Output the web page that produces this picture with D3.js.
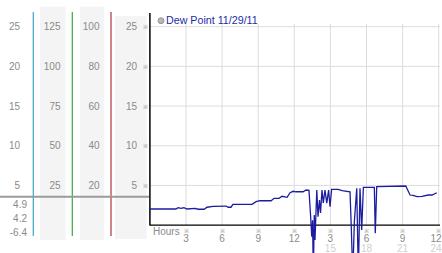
<!DOCTYPE html>
<html><head><meta charset="utf-8">
<script src="https://cdn.jsdelivr.net/npm/d3@7/dist/d3.min.js"></script>
<style>html,body{margin:0;padding:0;background:#fff;overflow:hidden}svg{display:block}</style>
</head><body><svg id="c" width="442" height="253"></svg>
<script>
// ---- data ----
const seriesName = "Dew Point 11/29/11";
const hours = [0,2.17,2.34,2.59,2.83,3.08,3.75,4.0,4.5,4.75,5.25,6.33,6.5,6.74,6.9,8.49,8.82,9.15,10.07,10.32,10.73,10.98,11.4,11.65,11.9,12.14,12.73,12.98,13.22,13.35,13.45,13.52,13.58,13.66,13.72,13.87,13.97,14.09,14.18,14.3,14.41,14.55,14.7,14.85,14.97,15.1,15.64,15.97,16.63,16.72,16.86,16.99,17.19,17.32,17.46,17.6,17.74,18.65,18.73,18.85,21.26,21.62,21.87,22.2,22.62,23.12,23.45,23.84];
const dewPoint = [2.03,2.03,2.2,2.1,2.2,2.03,2.1,2.0,2.0,2.25,2.37,2.4,2.25,2.25,2.6,2.62,2.95,3.07,3.07,3.38,3.38,3.63,3.5,4.08,4.26,4.2,4.2,4.42,4.38,1.27,-1.46,0.6,-6.4,1.27,-1.88,4.42,1.06,3.16,1.52,4.42,2.78,4.42,2.78,4.42,2.32,4.5,4.5,4.33,4.2,0.43,-6.4,0.43,4.64,-6.4,4.64,-0.62,4.76,4.76,-1.03,4.84,4.93,3.79,3.74,3.58,3.63,3.79,3.79,4.08];
const yTicks = [25,20,15,10,5];
const col2Labels = ["125","100","75","50","25"];
const col3Labels = ["100","80","60","40","20"];
const statLabels = ["4.9","4.2","-6.4"];
const refValue = 3.58;
const xTicks = [3,6,9,12,15,18,21,24];
const xTickLabels = ["3","6","9","12","3","6","9","12"];
const xTicks24 = [15,18,21,24];
const xTickLabels24 = ["15","18","21","24"];

// ---- drawing ----
const svg = d3.select("#c");
const font = "'Liberation Sans', Arial, sans-serif";
const x = d3.scaleLinear().domain([0,24]).range([149.9,438.7]);
const y = d3.scaleLinear().domain([0,25]).range([225.1,26.7]);
const W = 442;

// left panel backgrounds
const bgs = [[40,6.7,25.7,233.3],[80,6.7,24.3,233.3],[115,16,31.7,223]];
svg.selectAll("rect.bg").data(bgs).enter().append("rect")
  .attr("x",d=>d[0]).attr("y",d=>d[1]).attr("width",d=>d[2]).attr("height",d=>d[3])
  .attr("fill","#f4f4f4");

// colored separators
const seps = [[33.3,"#3aa6c8"],[72.3,"#3aa83a"],[111,"#b03434"]];
svg.selectAll("line.sep").data(seps).enter().append("line")
  .attr("x1",d=>d[0]).attr("x2",d=>d[0]).attr("y1",12).attr("y2",236)
  .attr("stroke",d=>d[1]).attr("stroke-width",1.2);

// reference gray line
svg.append("line").attr("x1",0).attr("x2",149).attr("y1",y(refValue)).attr("y2",y(refValue))
  .attr("stroke","#9a9a9a").attr("stroke-width",2);

// left labels
function colLabels(labels, xr){
  svg.append("g").selectAll("text").data(labels).enter().append("text")
    .attr("x",xr).attr("y",(d,i)=>y(yTicks[i])+3.6)
    .attr("text-anchor","end").attr("font-family",font).attr("font-size",10)
    .attr("fill","#8a8a8a").text(d=>d);
}
colLabels(yTicks.map(String),20);
colLabels(col2Labels,60.5);
colLabels(col3Labels,99.5);
colLabels(yTicks.map(String),137);
svg.append("g").selectAll("text").data(statLabels).enter().append("text")
  .attr("x",27).attr("y",(d,i)=>207.8+i*14)
  .attr("text-anchor","end").attr("font-family",font).attr("font-size",10)
  .attr("fill","#8a8a8a").text(d=>d);

// tick marks on y axis
svg.append("g").selectAll("text").data(yTicks).enter().append("text")
  .attr("x",145.5).attr("y",d=>y(d)+2.5).attr("text-anchor","middle")
  .attr("font-family",font).attr("font-size",6).attr("fill","#999").text("※");

// grid
svg.append("g").selectAll("line").data(yTicks).enter().append("line")
  .attr("x1",x(0)).attr("x2",440).attr("y1",d=>y(d)).attr("y2",d=>y(d))
  .attr("stroke","#dcdcdc").attr("stroke-width",1);
svg.append("g").selectAll("line").data(xTicks).enter().append("line")
  .attr("x1",d=>x(d)).attr("x2",d=>x(d)).attr("y1",24).attr("y2",y(0))
  .attr("stroke","#dcdcdc").attr("stroke-width",1);

// axes
svg.append("line").attr("x1",x(0)).attr("x2",x(0)).attr("y1",13).attr("y2",y(0)+0.5)
  .attr("stroke","#000").attr("stroke-width",1.5);
svg.append("line").attr("x1",x(0)).attr("x2",440).attr("y1",y(0)).attr("y2",y(0))
  .attr("stroke","#000").attr("stroke-width",1.3);

// x labels (keep the last labels inside the picture)
const lx = d => x(d) > W - 8 ? W - 0.5 : x(d);
const la = d => x(d) > W - 8 ? "end" : "middle";
svg.append("text").attr("x",153).attr("y",235).attr("font-family",font).attr("font-size",10)
  .attr("fill","#8a8a8a").text("Hours");
svg.append("g").selectAll("text").data(xTicks).enter().append("text")
  .attr("x",d=>x(d)).attr("y",232.5).attr("text-anchor","middle")
  .attr("font-family",font).attr("font-size",6).attr("fill","#999").text("※");
svg.append("g").selectAll("text").data(xTicks).enter().append("text")
  .attr("x",lx).attr("y",241.8).attr("text-anchor",la)
  .attr("font-family",font).attr("font-size",10).attr("fill","#8a8a8a")
  .text((d,i)=>xTickLabels[i]);
svg.append("g").selectAll("text").data(xTicks24).enter().append("text")
  .attr("x",lx).attr("y",252).attr("text-anchor",la)
  .attr("font-family",font).attr("font-size",10).attr("fill","#d0d0d0")
  .text((d,i)=>xTickLabels24[i]);

// series line
const pts = hours.map((h,i)=>[h,dewPoint[i]]);
svg.append("path").datum(pts)
  .attr("d",d3.line().x(d=>x(d[0])).y(d=>y(d[1])))
  .attr("fill","none").attr("stroke","#1c1ca0").attr("stroke-width",1.3);

// legend
svg.append("circle").attr("cx",161).attr("cy",20.7).attr("r",3)
  .attr("fill","#b8b8b8").attr("stroke","#888").attr("stroke-width",0.8);
svg.append("text").attr("x",166).attr("y",24.3).attr("font-family",font).attr("font-size",10.7)
  .attr("fill","#1c2ca8").text(seriesName);
</script></body></html>
